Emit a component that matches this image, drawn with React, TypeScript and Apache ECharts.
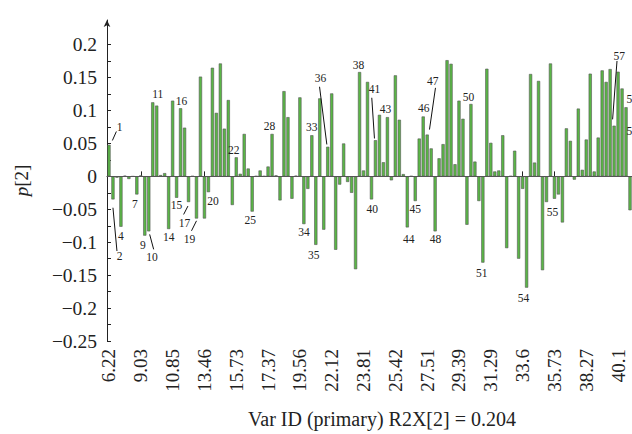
import React, { useEffect, useRef } from "react";
import * as echarts from "echarts";

// Tick labels shown on the category axis (every 8th variable)
const tickLabels = ["6.22", "9.03", "10.85", "13.46", "15.73", "17.37", "19.56", "22.12", "23.81", "25.42", "27.51", "29.39", "31.29", "33.6", "35.73", "38.27", "40.1"];

// p[2] loading per variable (132 variables)
const values = [
  0.048, -0.035, -0.002, -0.0765, 0.001, -0.004, 0.0, -0.0275, 0.0015, -0.09,
  -0.0835, 0.1125, 0.1075, 0.002, 0.005, -0.08, 0.115, -0.0325, 0.1035, 0.074,
  -0.039, 0.0005, -0.064, 0.1515, -0.064, -0.024, 0.165, 0.0965, 0.1715, 0.0725,
  0.116, -0.0435, 0.029, 0.004, 0.0645, 0.012, -0.0535, 0.0005, 0.009, 0.0005,
  0.015, 0.0645, 0.0015, -0.0365, 0.1295, 0.09, -0.034, 0.001, 0.12, -0.0725,
  -0.019, 0.0625, -0.104, 0.1185, -0.081, 0.045, 0.126, -0.1115, -0.0125, 0.05,
  -0.0085, -0.025, -0.141, 0.1585, 0.009, 0.1435, -0.035, 0.055, 0.0935, 0.0215,
  0.09, -0.006, 0.1535, 0.086, 0.0035, -0.0775, 0.0005, -0.0375, 0.0575, 0.091,
  0.0635, 0.0425, -0.0835, 0.0275, 0.049, 0.1765, 0.171, 0.0185, 0.115, 0.0875,
  -0.0735, 0.11, 0.0225, -0.0375, -0.131, 0.1635, 0.051, 0.0075, 0.009, 0.0625,
  -0.109, 0.0005, 0.039, -0.125, -0.019, -0.169, 0.1555, 0.021, 0.145, -0.1425,
  -0.039, 0.1715, -0.034, -0.0275, -0.07, 0.073, 0.054, -0.005, 0.103, 0.01,
  0.056, 0.156, 0.0075, 0.059, 0.161, 0.1435, 0.163, 0.077, 0.159, 0.1335,
  0.105, -0.0515,
];

// Annotated variables: label text and the index of the bar it marks
const annotationTexts = ["1", "2", "4", "7", "9", "10", "11", "14", "15", "16", "17", "19", "20", "22", "25", "28", "33", "34", "35", "36", "38", "40", "41", "43", "44", "45", "46", "47", "48", "50", "51", "54", "55", "57", "58", "59"];
const annotationBars = [0, 1, 3, 7, 9, 10, 11, 15, 17, 18, 20, 22, 25, 32, 36, 41, 51, 49, 52, 55, 63, 66, 67, 70, 75, 77, 79, 80, 82, 91, 94, 105, 112, 127, 129, 130];

// Y-axis ticks
const yTickValues = [-0.25, -0.225, -0.2, -0.175, -0.15, -0.125, -0.1, -0.075, -0.05, -0.025, 0, 0.025, 0.05, 0.075, 0.1, 0.125, 0.15, 0.175, 0.2];
const yLabelValues = [-0.25, -0.2, -0.15, -0.1, -0.05, 0, 0.05, 0.1, 0.15, 0.2];

// Layout of annotation labels relative to bar ends (pixels)
type Lay = { dx: number; dy: number; line?: number[]; align?: string };
const annotationLayout: Lay[] = [
  { dx: 10.7, dy: -17.7, line: [3.4, -4.3, 7.4, -13.3] },
  { dx: 6.7, dy: 56.6, line: [0, 8.3, 4, 51.6] },
  { dx: 0, dy: 9 },
  { dx: -2, dy: 10 },
  { dx: -2, dy: 9.5 },
  { dx: 3.2, dy: 25.3, line: [0.9, 3, 4.9, 18] },
  { dx: 5, dy: -8.3 },
  { dx: 0, dy: 8 },
  { dx: 0, dy: 7.5 },
  { dx: 1, dy: -7.5 },
  { dx: -4, dy: 21.4, line: [-0.6, 4, -4.9, 12.4] },
  { dx: -7, dy: 20.7, line: [0, 2.3, -5, 12.3] },
  { dx: 4.5, dy: 8.4 },
  { dx: -2.4, dy: -7.5 },
  { dx: -2, dy: 8 },
  { dx: -2.5, dy: -7.5 },
  { dx: 0, dy: -8.4 },
  { dx: 0, dy: 8.3 },
  { dx: -2, dy: 10.6 },
  { dx: -7.2, dy: -68.3, line: [-8.2, -60, -0.9, -2.3] },
  { dx: -1, dy: -7 },
  { dx: 0.7, dy: 10 },
  { dx: -1, dy: -51, line: [-3.7, -42.4, -1, -1.7] },
  { dx: -2, dy: -8.3 },
  { dx: 1.5, dy: 11.7 },
  { dx: 0, dy: 7.7 },
  { dx: 0.6, dy: -8.4 },
  { dx: 5.6, dy: -53.3, line: [8.3, -46.7, 2.3, -5] },
  { dx: 0.3, dy: 7.7 },
  { dx: -2.5, dy: -7.3 },
  { dx: -1, dy: 10 },
  { dx: -3, dy: 10 },
  { dx: -2, dy: 13 },
  { dx: 5.2, dy: -70, line: [-1.5, -6.3, 2.9, -64.7] },
  { dx: 4.5, dy: 11, align: "left" },
  { dx: 0.5, dy: 23.4, align: "left" },
];

const SERIF = '"Liberation Serif", "DejaVu Serif", serif';

export default function App() {
  const ref = useRef<HTMLDivElement>(null);
  useEffect(() => {
    document.body.style.margin = "0";
    if (!ref.current) return;
    const chart = echarts.init(ref.current, undefined, { renderer: "svg" });
    const categories = values.map((_, i) => (i % 8 === 0 ? tickLabels[i / 8] : String(i)));
    const annData = annotationBars.map((b) => [b, values[b]]);
    chart.setOption({
      animation: false,
      backgroundColor: "#ffffff",
      grid: { left: 107, right: -1, top: 20, bottom: 89.5, containLabel: false },
      xAxis: {
        type: "category",
        data: categories,
        boundaryGap: true,
        name: "Var ID (primary) R2X[2] = 0.204",
        nameLocation: "middle",
        nameGap: 68,
        nameTextStyle: { fontFamily: SERIF, fontSize: 20, color: "#222", padding: [0, 0, 0, 25] },
        axisLine: { show: true, lineStyle: { color: "#222", width: 1 } },
        axisTick: { show: true, inside: true, length: 5, interval: 7, alignWithLabel: true, lineStyle: { color: "#222" } },
        axisLabel: { interval: 7, rotate: 90, margin: 8, fontFamily: SERIF, fontSize: 19, color: "#222" },
        splitLine: { show: false },
      },
      yAxis: {
        type: "value",
        min: -0.25,
        max: 0.2375,
        name: "{i|p}[2]",
        nameLocation: "middle",
        nameRotate: 90,
        nameGap: 76,
        nameTextStyle: {
          fontFamily: SERIF,
          fontSize: 19,
          color: "#222",
          rich: { i: { fontFamily: SERIF, fontSize: 19, fontStyle: "italic", color: "#222" } },
        },
        axisLine: { show: true, symbol: ["none", "arrow"], symbolSize: [5, 7], lineStyle: { color: "#222", width: 1 } },
        axisTick: { show: true, inside: true, length: 4, customValues: yTickValues, lineStyle: { color: "#222" } },
        axisLabel: {
          customValues: yLabelValues,
          margin: 10,
          fontFamily: SERIF,
          fontSize: 19.5,
          color: "#222",
          formatter: (v: number) => {
            const r = Math.round(v * 100) / 100;
            if (r === 0) return "0";
            return (r < 0 ? "\u2212" : "") + String(Math.abs(r));
          },
        },
        splitLine: { show: false },
      },
      series: [
        {
          type: "bar",
          data: values,
          barWidth: 3.2,
          itemStyle: { color: "#5ab646", borderColor: "#555555", borderWidth: 0.6 },
          markLine: {
            silent: true,
            symbol: "none",
            label: { show: false },
            lineStyle: { color: "#555555", width: 1, type: "solid" },
            data: [{ yAxis: 0 }],
          },
        },
        {
          type: "custom",
          coordinateSystem: "cartesian2d",
          silent: true,
          z: 10,
          data: annData,
          renderItem: (params: any, api: any) => {
            const lay = annotationLayout[params.dataIndex];
            const text = annotationTexts[params.dataIndex];
            const p = api.coord([api.value(0), api.value(1)]);
            const children: any[] = [
              {
                type: "text",
                x: p[0] + lay.dx,
                y: p[1] + lay.dy,
                style: {
                  text,
                  fill: "#222",
                  fontSize: 11.5,
                  fontFamily: SERIF,
                  align: lay.align || "center",
                  verticalAlign: "middle",
                },
              },
            ];
            if (lay.line) {
              children.push({
                type: "line",
                shape: { x1: p[0] + lay.line[0], y1: p[1] + lay.line[1], x2: p[0] + lay.line[2], y2: p[1] + lay.line[3] },
                style: { stroke: "#111", lineWidth: 1 },
              });
            }
            return { type: "group", children };
          },
        },
      ],
    });
    return () => chart.dispose();
  }, []);
  return <div ref={ref} style={{ width: 632, height: 434 }} />;
}
